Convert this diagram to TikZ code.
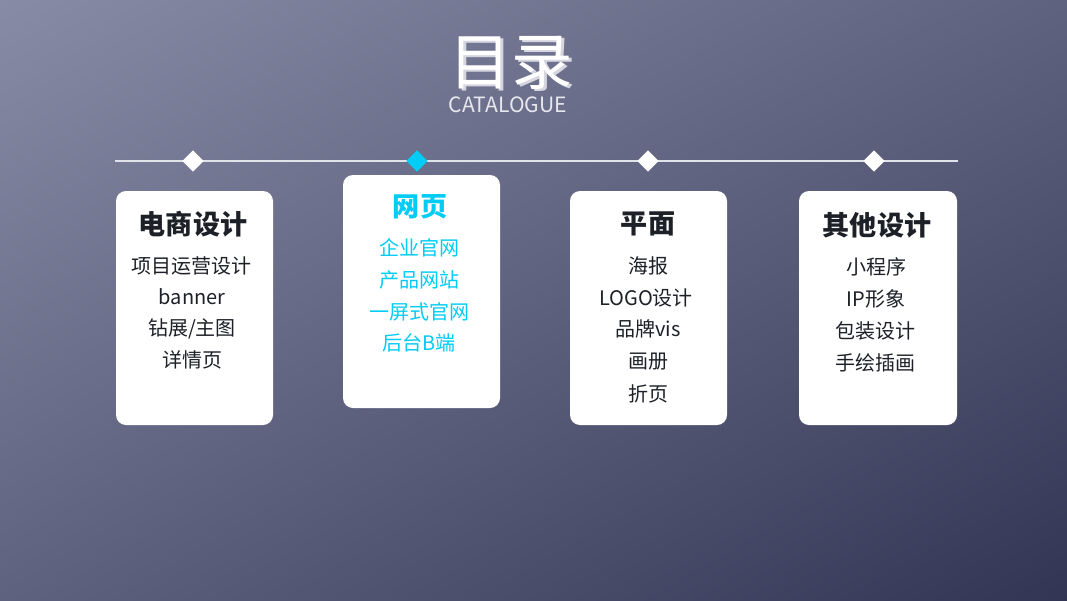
\documentclass[tikz,border=0pt]{standalone}
\usepackage{fontspec}
\newfontfamily\cjk{Noto Sans CJK SC}
\usetikzlibrary{shapes.geometric,shadings}
\definecolor{bgtop}{RGB}{136,139,166}
\definecolor{bgmid}{RGB}{94,98,126}
\definecolor{bgbot}{RGB}{50,54,84}
\definecolor{ink}{RGB}{30,32,40}
\definecolor{webblue}{RGB}{0,204,245}
\definecolor{rule}{RGB}{225,227,235}
\begin{document}
\begin{tikzpicture}[x=0.75pt,y=-0.75pt,
    card/.style={fill=white,draw=none,rounded corners=7.5pt},
    gem/.style={diamond,fill=white,inner sep=0pt,minimum width=16pt,minimum height=16pt},
    head/.style={font=\cjk\bfseries\fontsize{20.3}{22}\selectfont,text=ink},
    item/.style={font=\cjk\fontsize{15}{17}\selectfont,text=ink}]
			\useasboundingbox (0,0) rectangle (1067,600);
			\shade[upper left=bgtop,upper right=bgmid,lower left=bgmid,lower right=bgbot] (0,0) rectangle (1067,600);
			
			\node[inner sep=0pt,text=white!65!bgtop,font=\cjk\fontsize{46}{46}\selectfont] at (514,65) {目录};
			\node (title) [inner sep=0pt,text=white,font=\cjk\fontsize{46}{46}\selectfont] at (511,63) {目录};
			\node (sub) [inner sep=0pt,text=white!80!bgtop,font=\cjk\fontsize{15.8}{16}\selectfont] at (508,105) {CATALOGUE};
			
			\coordinate (l) at (115,161);
			\coordinate (r) at (958,161);
			\draw[rule,line width=1pt] (l) -- (r);
			
			\node (d1) [gem] at (193,161) {};
			\node (d2) [gem,fill=webblue] at (417,161) {};
			\node (d3) [gem] at (648,161) {};
			\node (d4) [gem] at (874,161) {};
			
			\path[card] (116,191) rectangle (273,425);
			\path[card] (343,175) rectangle (500,408);
			\path[card] (570,191) rectangle (727,425);
			\path[card] (799,191) rectangle (957,425);
			
			\node (a0) [head] at (193,224) {电商设计};
			\node (a1) [item] at (191,266) {项目运营设计};
			\node (a2) [item] at (192,297) {banner};
			\node (a3) [item] at (192,329) {钻展/主图};
			\node (a4) [item] at (192,360) {详情页};
			
			\node (b0) [head,text=webblue] at (420,207) {网页};
			\node (b1) [item,text=webblue] at (419,248) {企业官网};
			\node (b2) [item,text=webblue] at (419,280) {产品网站};
			\node (b3) [item,text=webblue] at (419,312) {一屏式官网};
			\node (b4) [item,text=webblue] at (419,343) {后台B端};
			
			\node (c0) [head] at (648,224) {平面};
			\node (c1) [item] at (648,266) {海报};
			\node (c2) [item] at (646,298) {LOGO设计};
			\node (c3) [item] at (648,329) {品牌vis};
			\node (c4) [item] at (648,362) {画册};
			\node (c5) [item] at (648,394) {折页};
			
			\node (e0) [head] at (877,225) {其他设计};
			\node (e1) [item] at (876,267) {小程序};
			\node (e2) [item] at (876,299) {IP形象};
			\node (e3) [item] at (875,331) {包装设计};
			\node (e4) [item] at (875,363) {手绘插画};
		\end{tikzpicture}
\end{document}
